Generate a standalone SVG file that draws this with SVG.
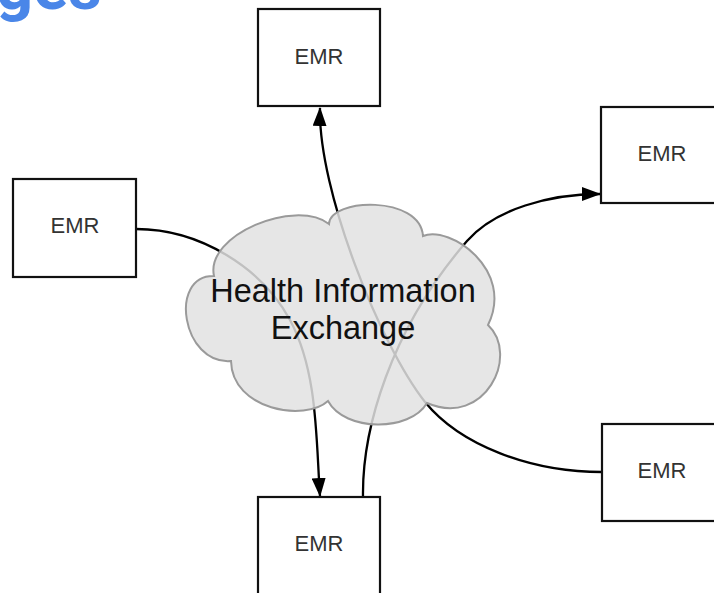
<svg xmlns="http://www.w3.org/2000/svg" width="714" height="593" viewBox="0 0 714 593">
<style>
.box{fill:#fff;stroke:#111;stroke-width:2.2}
.lbl{font-family:"Liberation Sans",Arial,sans-serif;font-size:22px;fill:#333;text-anchor:middle}
.con{fill:none;stroke:#000;stroke-width:2.3}
.cloud{fill:#e2e2e2;fill-opacity:0.85;stroke:#9a9a9a;stroke-width:2}
.ctext{font-family:"Liberation Sans",Arial,sans-serif;font-size:32.5px;fill:#111;text-anchor:middle}
.title{font-family:Roboto,"Open Sans",sans-serif;font-weight:bold;font-size:65px;fill:#4a86e8}
</style>
<defs>
<marker id="arr" markerUnits="userSpaceOnUse" markerWidth="19" markerHeight="14" refX="18" refY="7" orient="auto">
<path d="M0,0 L19,7 L0,14 z" fill="#000"/>
</marker>
</defs>
<rect width="714" height="593" fill="#fff"/>
<text class="title" x="-4" y="9">ges</text>
<g id="connectors">
<path class="con" d="M136,229 C200,229 262,268 290,320 S316,440 320,496" marker-end="url(#arr)"/>
<path class="con" d="M602,472 C530,472 460,445 425,402 C380,345 318,190 320,108" marker-end="url(#arr)"/>
<path class="con" d="M363,497 C362,430 390,330 467,241 C495,209 550,194 600,194" marker-end="url(#arr)"/>
</g>
<g id="hie">
<path class="cloud" d="M214,276 C205,235 295,198 329,224 C330,198 420,195 423,236 C450,225 515,270 488,325 C520,355 485,428 427,403 C410,432 345,432 328,401 C305,422 232,410 231,361 C182,365 168,275 214,276 Z"/>
<text class="ctext" x="343" y="302">Health Information</text>
<text class="ctext" x="343" y="339">Exchange</text>
</g>
<g id="emr-top">
<rect class="box" x="258" y="9" width="122" height="97"/>
<text class="lbl" x="319" y="64">EMR</text>
</g>
<g id="emr-left">
<rect class="box" x="13" y="179" width="123" height="98"/>
<text class="lbl" x="75" y="233">EMR</text>
</g>
<g id="emr-right-top">
<rect class="box" x="601" y="107" width="130" height="96"/>
<text class="lbl" x="662" y="161">EMR</text>
</g>
<g id="emr-right-bottom">
<rect class="box" x="602" y="424" width="130" height="97"/>
<text class="lbl" x="662" y="478">EMR</text>
</g>
<g id="emr-bottom">
<rect class="box" x="258" y="497" width="122" height="110"/>
<text class="lbl" x="319" y="551">EMR</text>
</g>
</svg>
